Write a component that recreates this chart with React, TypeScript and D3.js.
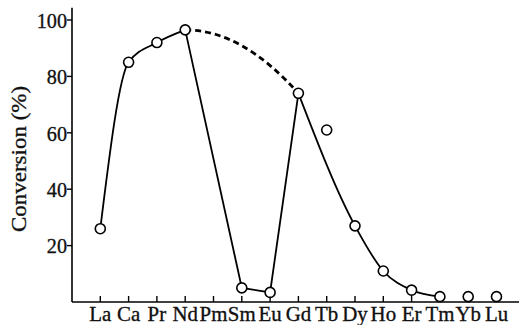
import React from "react";
import * as d3 from "d3";

const elements = ["La", "Ca", "Pr", "Nd", "Pm", "Sm", "Eu", "Gd", "Tb", "Dy", "Ho", "Er", "Tm", "Yb", "Lu"];
// conversion (%) per element, null where not measured
const conversion: (number | null)[] = [26, 85, 92, 96.5, null, 5, 3.4, 74, 61, 27, 11, 4.2, 1.9, 1.9, 1.9];
const yTicks = [20, 40, 60, 80, 100];

// segments of the fitted curve (element symbols)
const risingCurve = ["La", "Ca", "Pr", "Nd"];
const dropSegment = ["Nd", "Sm", "Eu", "Gd"];
const fallingCurve = ["Gd", "Dy", "Ho", "Er", "Tm"];
const dashedArc = ["Nd", "Gd"];

const W = 519;
const H = 325;
const FONT = '"Liberation Serif", "Times New Roman", serif';

export default function App() {
  const x = d3.scaleLinear().domain([-1, 14]).range([72, 496.5]);
  const y = d3.scaleLinear().domain([0, 100]).range([302, 20]);

  const pt = (sym: string): [number, number] => {
    const i = elements.indexOf(sym);
    return [x(i), y(conversion[i] as number)];
  };

  const smooth = d3.line().curve(d3.curveMonotoneX);
  const straight = d3.line();

  // dashed arc: quadratic with horizontal tangent at Nd
  const [ax, ay] = pt(dashedArc[0]);
  const [bx, by] = pt(dashedArc[1]);
  const arcPath = d3.path();
  arcPath.moveTo(ax, ay);
  arcPath.quadraticCurveTo((ax + bx) / 2, ay, bx, by);

  const points = elements
    .map((e, i) => ({ e, v: conversion[i], i }))
    .filter((d) => d.v !== null);

  const y0 = y(0);
  const yTop = y(104.3);
  const textStyle = { fontFamily: FONT, fill: "#111", stroke: "#111", strokeWidth: 0.35 };

  return (
    <svg
      width={W}
      height={H}
      style={{ position: "absolute", left: 0, top: 0, background: "#fff" }}
    >
      {/* axes */}
      <line x1={x(-1)} x2={x(-1)} y1={yTop} y2={y0} stroke="#000" strokeWidth={1.6} />
      <line x1={x(-1)} x2={W} y1={y0} y2={y0} stroke="#000" strokeWidth={1.6} />
      {yTicks.map((t) => (
        <g key={t}>
          <line x1={x(-1) - 5} x2={x(-1)} y1={y(t)} y2={y(t)} stroke="#000" strokeWidth={1.4} />
          <text
            transform={`translate(${x(-1) - 5},${y(t)}) scale(0.92,1)`}
            dy="0.35em"
            textAnchor="end"
            fontSize={22}
            style={textStyle}
          >
            {t}
          </text>
        </g>
      ))}
      {elements.map((e, i) => (
        <g key={e}>
          <line x1={x(i)} x2={x(i)} y1={y0} y2={y0 - 6} stroke="#000" strokeWidth={1.4} />
          <text
            transform={`translate(${x(i)},321) scale(0.95,1)`}
            textAnchor="middle"
            fontSize={22}
            style={textStyle}
          >
            {e}
          </text>
        </g>
      ))}
      <text
        transform={`translate(26, ${(85 + 233) / 2}) rotate(-90) scale(1,0.92)`}
        textAnchor="middle"
        fontSize={23}
        style={textStyle}
      >
        Conversion (%)
      </text>

      {/* curves */}
      <path d={smooth(risingCurve.map(pt)) || ""} fill="none" stroke="#000" strokeWidth={1.8} />
      <path d={straight(dropSegment.map(pt)) || ""} fill="none" stroke="#000" strokeWidth={1.8} />
      <path d={smooth(fallingCurve.map(pt)) || ""} fill="none" stroke="#000" strokeWidth={1.8} />
      <path
        d={arcPath.toString()}
        fill="none"
        stroke="#000"
        strokeWidth={2.8}
        strokeDasharray="6,4"
      />

      {/* data points */}
      {points.map((d) => (
        <circle
          key={d.e}
          cx={x(d.i)}
          cy={y(d.v as number)}
          r={5}
          fill="#fff"
          stroke="#000"
          strokeWidth={1.6}
        />
      ))}
    </svg>
  );
}
